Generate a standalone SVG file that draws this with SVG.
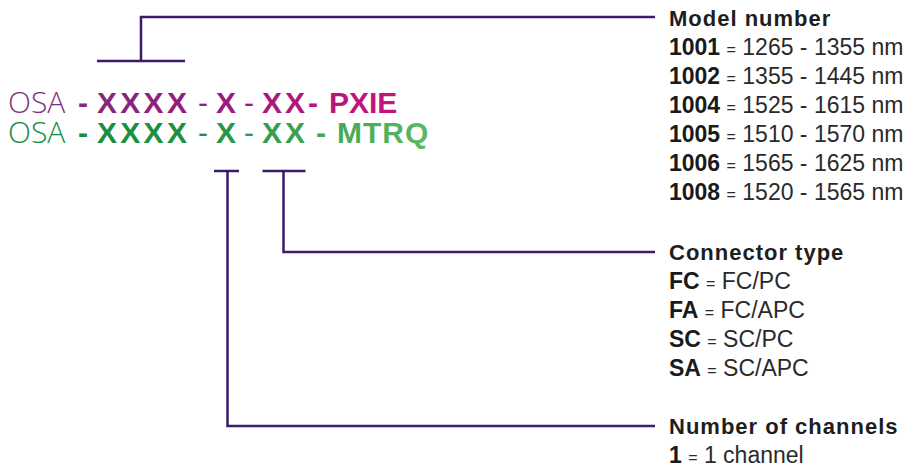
<svg xmlns="http://www.w3.org/2000/svg" width="912" height="471" viewBox="0 0 912 471">
  <style>
    .code { font-family: "Liberation Sans", Arial, sans-serif; font-size: 30px; }
    .b { font-weight: bold; }
    .lt { font-family: "Open Sans", "Liberation Sans", sans-serif; font-weight: 300; }
    .hd { font-family: "Liberation Sans", Arial, sans-serif; font-size: 22px; font-weight: bold; fill: #1e1e1e; letter-spacing: 1px; }
    .row { font-family: "Liberation Sans", Arial, sans-serif; font-size: 23px; fill: #2a2a2a; }
    .row .k { font-weight: bold; fill: #1a1a1a; }
    .row .eq { font-size: 16px; }
    .ln { fill: none; stroke: #3d1b6b; stroke-width: 2.5; stroke-linecap: butt; stroke-linejoin: miter; }
  </style>
  <defs>
    <linearGradient id="gPurple" gradientUnits="userSpaceOnUse" x1="0" y1="0" x2="400" y2="0">
      <stop offset="0" stop-color="#7a2f82"/>
      <stop offset="0.5" stop-color="#961b7b"/>
      <stop offset="1" stop-color="#c8127f"/>
    </linearGradient>
    <linearGradient id="gGreen" gradientUnits="userSpaceOnUse" x1="0" y1="0" x2="430" y2="0">
      <stop offset="0" stop-color="#138a45"/>
      <stop offset="0.45" stop-color="#1f913f"/>
      <stop offset="1" stop-color="#5cb865"/>
    </linearGradient>
  </defs>

  <g id="connectors">
    <path class="ln" d="M655,17 H141 V61"/>
    <path class="ln" d="M97,61 H185"/>
    <path class="ln" d="M214,171 H239"/>
    <path class="ln" d="M227.5,171 V426 H655"/>
    <path class="ln" d="M262.5,171 H305.5"/>
    <path class="ln" d="M283.5,171 V252 H655"/>
  </g>

  <g id="code-pxie">
    <text class="code" y="113" fill="url(#gPurple)">
      <tspan x="8" class="lt">OSA</tspan>
      <tspan x="78" class="b">-</tspan>
      <tspan x="97" class="b" letter-spacing="3.3">XXXX</tspan>
      <tspan x="198">-</tspan>
      <tspan x="216" class="b">X</tspan>
      <tspan x="244">-</tspan>
      <tspan x="262" class="b" letter-spacing="3">XX</tspan>
      <tspan x="308" class="b">-</tspan>
      <tspan x="329" class="b">PXIE</tspan>
    </text>
  </g>

  <g id="code-mtrq">
    <text class="code" y="143" fill="url(#gGreen)">
      <tspan x="8" class="lt">OSA</tspan>
      <tspan x="78" class="b">-</tspan>
      <tspan x="97" class="b" letter-spacing="3.3">XXXX</tspan>
      <tspan x="198">-</tspan>
      <tspan x="216" class="b">X</tspan>
      <tspan x="244">-</tspan>
      <tspan x="262" class="b" letter-spacing="3">XX</tspan>
      <tspan x="316" class="b">-</tspan>
      <tspan x="337" class="b" letter-spacing="1">MTRQ</tspan>
    </text>
  </g>

  <g id="model-number">
    <text class="hd" x="669" y="26">Model number</text>
    <text class="row" x="669" y="55"><tspan class="k">1001</tspan> <tspan class="eq">=</tspan> 1265 - 1355 nm</text>
    <text class="row" x="669" y="84"><tspan class="k">1002</tspan> <tspan class="eq">=</tspan> 1355 - 1445 nm</text>
    <text class="row" x="669" y="113"><tspan class="k">1004</tspan> <tspan class="eq">=</tspan> 1525 - 1615 nm</text>
    <text class="row" x="669" y="142"><tspan class="k">1005</tspan> <tspan class="eq">=</tspan> 1510 - 1570 nm</text>
    <text class="row" x="669" y="171"><tspan class="k">1006</tspan> <tspan class="eq">=</tspan> 1565 - 1625 nm</text>
    <text class="row" x="669" y="200"><tspan class="k">1008</tspan> <tspan class="eq">=</tspan> 1520 - 1565 nm</text>
  </g>

  <g id="connector-type">
    <text class="hd" x="669" y="260">Connector type</text>
    <text class="row" x="669" y="289"><tspan class="k">FC</tspan> <tspan class="eq">=</tspan> FC/PC</text>
    <text class="row" x="669" y="318"><tspan class="k">FA</tspan> <tspan class="eq">=</tspan> FC/APC</text>
    <text class="row" x="669" y="347"><tspan class="k">SC</tspan> <tspan class="eq">=</tspan> SC/PC</text>
    <text class="row" x="669" y="376"><tspan class="k">SA</tspan> <tspan class="eq">=</tspan> SC/APC</text>
  </g>

  <g id="number-of-channels">
    <text class="hd" x="669" y="434">Number of channels</text>
    <text class="row" x="669" y="463"><tspan class="k">1</tspan> <tspan class="eq">=</tspan> 1 channel</text>
  </g>
</svg>
